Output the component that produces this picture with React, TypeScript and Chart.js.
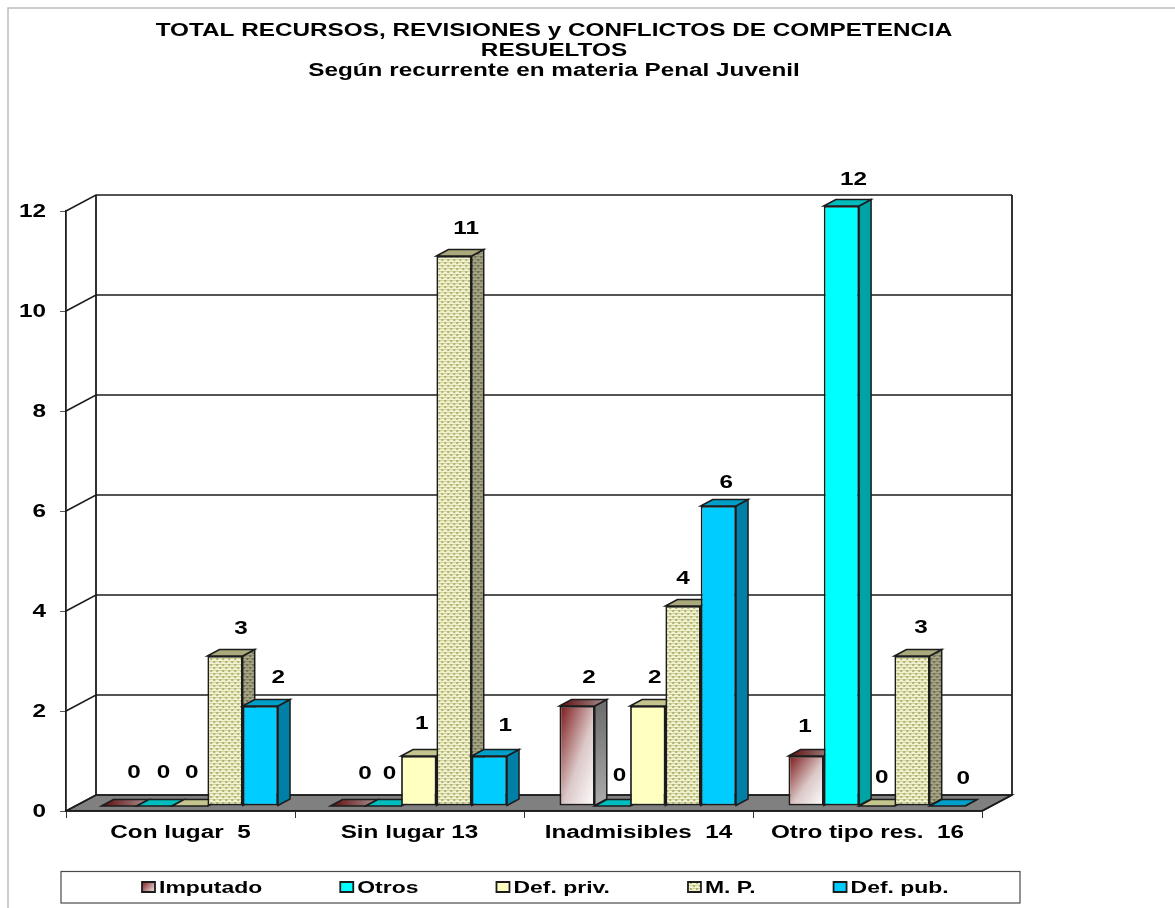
import React, { useEffect, useRef } from "react";
import { Chart, registerables } from "chart.js";

Chart.register(...registerables);

const categories = ["Con lugar  5", "Sin lugar 13", "Inadmisibles  14", "Otro tipo res.  16"];
const seriesNames = ["Imputado", "Otros", "Def. priv.", "M. P.", "Def. pub."];
const imputado = [0, 0, 2, 1];
const otros = [0, 0, 0, 12];
const defPriv = [0, 1, 2, 0];
const mp = [3, 11, 4, 3];
const defPub = [2, 1, 6, 0];
const titleLines = [
  "TOTAL RECURSOS, REVISIONES y CONFLICTOS DE COMPETENCIA",
  "RESUELTOS",
  "Según recurrente en materia Penal Juvenil",
];

// hand-placed offsets of value labels relative to each bar's centre/top
const labelDx = [
  [15, 17, 12, -1],
  [9, 6, 7, 12],
  [2, 3, 7, 5],
  [16, 12, 0, 9],
  [18, 16, 8, 16],
];
const labelDy = [
  [-34, -33, -29, -30],
  [-34, -33, -31, -27],
  [-34, -33, -29, -29],
  [-28, -28, -28, -29],
  [-29, -31, -24, -28],
];

const FONT = "'Liberation Sans', Arial, sans-serif";
const TEXT_STRETCH = 1.35;
const TEXT_DROP = 1.5;
const DEPTH_X = 30;
const DEPTH_Y = 16;
const BAR_SHIFT_X = 9.25;
const BAR_SHIFT_Y = 5;
const BAR_DX = 12;
const BAR_DY = 6.5;
const LINE = "#1c1c1c";
const LEGEND_GAP = 4.5;

const sideColors = ["#9a9a9a", "#00a3a3", "#a8a878", "#8c8c68", "#0080a6"];
const topColors = ["#7a2a2a", "#00bcbc", "#c4c48e", "#a9a97c", "#009fc9"];

function makePattern(ctx: CanvasRenderingContext2D, bg: string, fg: string, fg2: string) {
  const c = document.createElement("canvas");
  c.width = 6;
  c.height = 6;
  const p = c.getContext("2d")!;
  p.fillStyle = bg;
  p.fillRect(0, 0, 6, 6);
  p.fillStyle = fg2;
  p.fillRect(0, 0, 6, 1);
  p.fillRect(0, 3, 6, 1);
  p.fillStyle = fg;
  p.fillRect(0, 0, 2, 2);
  p.fillRect(3, 3, 2, 2);
  return ctx.createPattern(c, "repeat")!;
}

// The reference's lettering is horizontally stretched: keep real text, widened.
function stretchText(ctx: any) {
  const fill = ctx.fillText.bind(ctx);
  const measure = ctx.measureText.bind(ctx);
  ctx.fillText = (text: string, x: number, y: number) => {
    ctx.save();
    const nudge = seriesNames.includes(text) ? LEGEND_GAP : 0;
    ctx.translate(x - nudge, y + TEXT_DROP);
    ctx.scale(TEXT_STRETCH, 1);
    fill(text, 0, 0);
    ctx.restore();
  };
  ctx.measureText = (text: string) => ({ width: measure(text).width * TEXT_STRETCH });
}

function poly(ctx: CanvasRenderingContext2D, pts: number[][], fill: any, stroke = LINE, lw = 1.5) {
  ctx.beginPath();
  pts.forEach(([x, y], i) => (i ? ctx.lineTo(x, y) : ctx.moveTo(x, y)));
  ctx.closePath();
  ctx.fillStyle = fill;
  ctx.fill();
  ctx.strokeStyle = stroke;
  ctx.lineWidth = lw;
  ctx.stroke();
}

const scenePlugin = {
  id: "scene",
  beforeLayout(chart: any) {
    const legend = chart.legend;
    if (legend && !legend.__wrapped) {
      const fit = legend.fit.bind(legend);
      legend.fit = () => {
        legend.maxWidth = 2000;
        fit();
        legend.height = 32;
      };
      legend.__wrapped = true;
    }
  },
  afterLayout(chart: any) {
    const t = chart.titleBlock;
    t.left = 0;
    t.right = 1108;
    t.top = 0;
    const l = chart.legend;
    const pad = l.options.labels.padding;
    l.left = 142 - pad;
    l.right = 1175;
    l.top = 887 - 8.5 - pad;
  },
  beforeDraw(chart: any) {
    const ctx = chart.ctx;
    const y = chart.scales.y;
    const { left, right } = chart.chartArea;
    ctx.save();
    ctx.fillStyle = "#ffffff";
    ctx.fillRect(0, 0, chart.width, chart.height);
    // outer frame
    ctx.strokeStyle = "#bdbdbd";
    ctx.lineWidth = 1.5;
    ctx.beginPath();
    ctx.moveTo(8, 908);
    ctx.lineTo(8, 8);
    ctx.lineTo(1175, 8);
    ctx.stroke();
    // floor
    const y0 = y.getPixelForValue(0);
    poly(
      ctx,
      [
        [left, y0],
        [right, y0],
        [right + DEPTH_X, y0 - DEPTH_Y],
        [left + DEPTH_X, y0 - DEPTH_Y],
      ],
      "#808080"
    );
    // back wall grid and side wall
    ctx.strokeStyle = LINE;
    ctx.lineWidth = 1.5;
    for (const tick of y.ticks) {
      const py = y.getPixelForValue(tick.value);
      ctx.beginPath();
      ctx.moveTo(left, py);
      ctx.lineTo(left + DEPTH_X, py - DEPTH_Y);
      ctx.lineTo(right + DEPTH_X, py - DEPTH_Y);
      ctx.stroke();
    }
    const yTop = y.getPixelForValue(12) - DEPTH_Y;
    const yBot = y0 - DEPTH_Y;
    ctx.lineWidth = 1.8;
    ctx.beginPath();
    ctx.moveTo(left + DEPTH_X, yTop);
    ctx.lineTo(left + DEPTH_X, yBot);
    ctx.moveTo(right + DEPTH_X, yTop);
    ctx.lineTo(right + DEPTH_X, yBot);
    ctx.lineTo(right, y0);
    ctx.stroke();
    ctx.restore();
  },
  beforeDatasetDraw() {
    return false;
  },
  afterDatasetsDraw(chart: any) {
    const ctx = chart.ctx;
    const sidePattern = chart.$sidePattern;
    ctx.save();
    ctx.translate(BAR_SHIFT_X, -BAR_SHIFT_Y);
    chart.data.datasets.forEach((_: any, di: number) => {
      const meta = chart.getDatasetMeta(di);
      meta.data.forEach((el: any) => {
        const L = el.x - el.width / 2;
        const R = el.x + el.width / 2;
        const T = el.y;
        const B = el.base;
        let side: any = sideColors[di];
        let top: any = topColors[di];
        if (di === 0) {
          side = ctx.createLinearGradient(0, T, 0, B);
          side.addColorStop(0, "#6e6e6e");
          side.addColorStop(1, "#ababab");
          top = ctx.createLinearGradient(L, 0, R + BAR_DX, 0);
          top.addColorStop(0, "#5e0c0c");
          top.addColorStop(1, "#a89090");
        }
        if (di === 3) side = sidePattern;
        poly(ctx, [[R, T], [R + BAR_DX, T - BAR_DY], [R + BAR_DX, B - BAR_DY], [R, B]], side);
        poly(ctx, [[L, T], [L + BAR_DX, T - BAR_DY], [R + BAR_DX, T - BAR_DY], [R, T]], top);
        if (B - T > 0.5) {
          if (di === 0) {
            const w = R - L;
            const h = B - T;
            const t = (2 * w * h) / (w * w + h * h);
            const g = ctx.createLinearGradient(L, T, L + h * t, T + w * t);
            g.addColorStop(0, "#7a1414");
            g.addColorStop(0.55, "#dcc8c8");
            g.addColorStop(1, "#ffffff");
            el.options = { ...el.options, backgroundColor: g };
          }
          el.draw(ctx);
        }
      });
    });
    // value labels
    ctx.fillStyle = "#000";
    ctx.font = `bold 18px ${FONT}`;
    ctx.textAlign = "center";
    ctx.textBaseline = "middle";
    chart.data.datasets.forEach((ds: any, di: number) => {
      chart.getDatasetMeta(di).data.forEach((el: any, i: number) => {
        ctx.fillText(String(ds.data[i]), el.x + labelDx[di][i], el.y + labelDy[di][i]);
      });
    });
    ctx.restore();
  },
  afterDraw(chart: any) {
    const ctx = chart.ctx;
    ctx.save();
    ctx.strokeStyle = "#4a4a4a";
    ctx.lineWidth = 1.2;
    ctx.strokeRect(61, 871.5, 959, 31.5);
    ctx.restore();
  },
};

export default function App() {
  const ref = useRef<HTMLCanvasElement | null>(null);
  useEffect(() => {
    const canvas = ref.current!;
    const ctx = canvas.getContext("2d")!;
    stretchText(ctx);
    const impLegend = ctx.createLinearGradient(142, 881, 156, 893);
    impLegend.addColorStop(0, "#7a1414");
    impLegend.addColorStop(1, "#ffffff");
    const mpFront = makePattern(ctx, "#f2f2d0", "#adb174", "#d4d49c");
    const mpSide = makePattern(ctx, "#a5a583", "#6f6f55", "#8c8c6c");
    const fills: any[] = [impLegend, "#00ffff", "#ffffc0", mpFront, "#00ccff"];
    const values = [imputado, otros, defPriv, mp, defPub];
    const chart: any = new Chart(canvas, {
      type: "bar",
      data: {
        labels: categories,
        datasets: seriesNames.map((label, i) => ({
          label,
          data: values[i],
          backgroundColor: fills[i],
          borderColor: LINE,
          borderWidth: 1.8,
          borderSkipped: false,
          categoryPercentage: 0.771,
          barPercentage: 1,
        })),
      },
      options: {
        responsive: false,
        animation: false,
        events: [],
        layout: { autoPadding: false, padding: { left: 0, right: 193, top: 0, bottom: 0 } },
        plugins: {
          tooltip: { enabled: false },
          title: {
            display: true,
            text: titleLines,
            color: "#000",
            font: { family: FONT, size: 18, weight: "bold", lineHeight: 20 / 18 },
            padding: { top: 20, bottom: 131 },
          },
          legend: {
            display: true,
            position: "bottom",
            align: "start",
            labels: {
              color: "#000",
              font: { family: FONT, size: 17, weight: "bold" },
              boxWidth: 13,
              boxHeight: 10,
              padding: 73.5,
            },
          },
        },
        scales: {
          x: {
            grid: { display: true, drawOnChartArea: false, drawTicks: true, tickLength: 7, color: "#333", lineWidth: 1 },
            border: { display: true, color: LINE, width: 1.8 },
            ticks: {
              color: "#000",
              font: { family: FONT, size: 18, weight: "bold" },
              padding: 3,
              maxRotation: 0,
              autoSkip: false,
            },
            afterFit: (s: any) => {
              s.height = 65;
            },
          },
          y: {
            min: 0,
            max: 12,
            grid: { display: true, drawOnChartArea: false, drawTicks: true, tickLength: 6, color: "#555", lineWidth: 1 },
            border: { display: true, color: LINE, width: 1.8 },
            ticks: {
              stepSize: 2,
              color: "#000",
              font: { family: FONT, size: 18, weight: "bold" },
              padding: 14,
            },
            afterFit: (s: any) => {
              s.width = 66;
            },
          },
        },
      },
      plugins: [scenePlugin],
    } as any);
    chart.$sidePattern = mpSide;
    chart.draw();
    return () => chart.destroy();
  }, []);
  return (
    <canvas
      ref={ref}
      width={1175}
      height={908}
      style={{ position: "absolute", left: 0, top: 0, display: "block" }}
    />
  );
}
